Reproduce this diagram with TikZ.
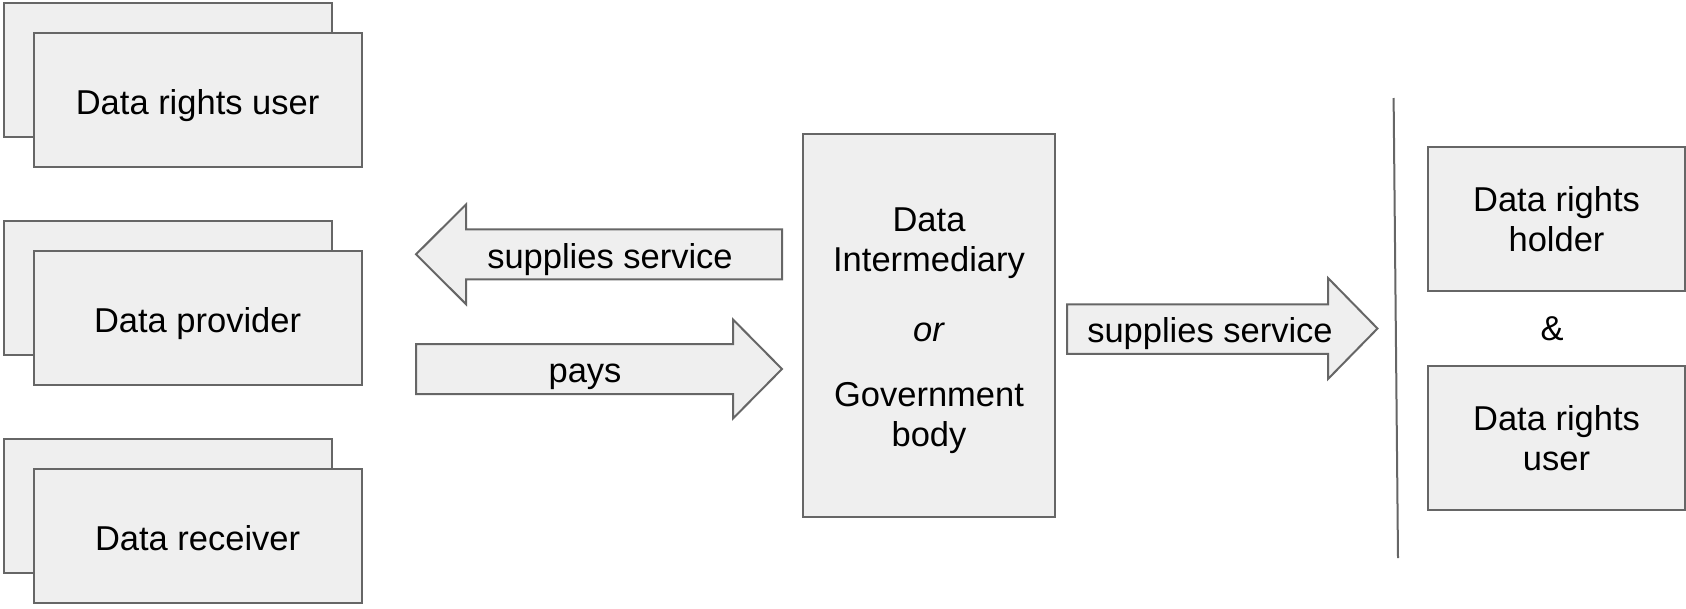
\documentclass[tikz,border=0pt]{standalone}
\usepackage{fontspec}
\setmainfont{Liberation Sans}
\usetikzlibrary{positioning}
\definecolor{boxfill}{HTML}{EFEFEF}
\definecolor{boxline}{HTML}{666666}

\begin{document}
\begin{tikzpicture}[x=1pt, y=-1pt, line width=2pt,
                    every node/.style={font=\fontsize{34.5}{40}\selectfont},
                    party node/.style={draw=boxline,fill=boxfill,inner sep=0pt,outer sep=0pt,minimum width=328pt,minimum height=134pt,text height=35pt,text depth=7pt},
                    side node/.style={draw=boxline,fill=boxfill,inner sep=0pt,outer sep=0pt,align=center,minimum width=257pt,minimum height=144pt},
                    block arrow/.style={draw=boxline,fill=boxfill,line join=miter}]

  \useasboundingbox (0,0) rectangle (1686,608);

  \node[party node] (user back) at (167.6,70.4) {};
  \node[party node] (user) at ([shift={(30,30)}]user back) {Data rights user};
  \node[party node] (provider back) [below=83.8pt of user back] {};
  \node[party node] (provider) at ([shift={(30,30)}]provider back) {Data provider};
  \node[party node] (receiver back) [below=83.8pt of provider back] {};
  \node[party node] (receiver) at ([shift={(30,30)}]receiver back) {Data receiver};

  \node[draw=boxline,fill=boxfill,outer sep=0pt,minimum width=251.7pt,minimum height=382.8pt] (broker) at (929,325.8) {};
  \node[align=center] (broker text) at ([yshift=-5]broker.center)
       {Data\\Intermediary\\[30.3pt]\textit{or}\\[24.7pt]Government\\body};

  \coordinate (divider top) at (1393.6,98);
  \coordinate (divider bottom) at (1398,558);
  \draw[boxline] (divider top) -- (divider bottom);

  \node[side node] (holder) at (1556.5,219) {Data rights\\holder};
  \node[side node] (user right) [below=75.3pt of holder] {Data rights\\user};
  \node (and) at (1552,329) {\&};

  \draw[block arrow] (416,254.3) -- (466,204.5) -- (466,229.3) -- (782,229.3) -- (782,279.3) -- (466,279.3) -- (466,304.1) -- cycle;
  \node[anchor=base] (supply label) at (610,268.5) {supplies service};

  \draw[block arrow] (416,344) -- (733,344) -- (733,319.5) -- (782,369) -- (733,418.5) -- (733,394) -- (416,394) -- cycle;
  \node[anchor=base] (pay label) at (585,382) {pays};

  \draw[block arrow] (1067,304.3) -- (1328,304.3) -- (1328,278) -- (1377.5,328.5) -- (1328,379) -- (1328,353.8) -- (1067,353.8) -- cycle;
  \node[anchor=base] (service label) at (1210,342) {supplies service};

\end{tikzpicture}
\end{document}
